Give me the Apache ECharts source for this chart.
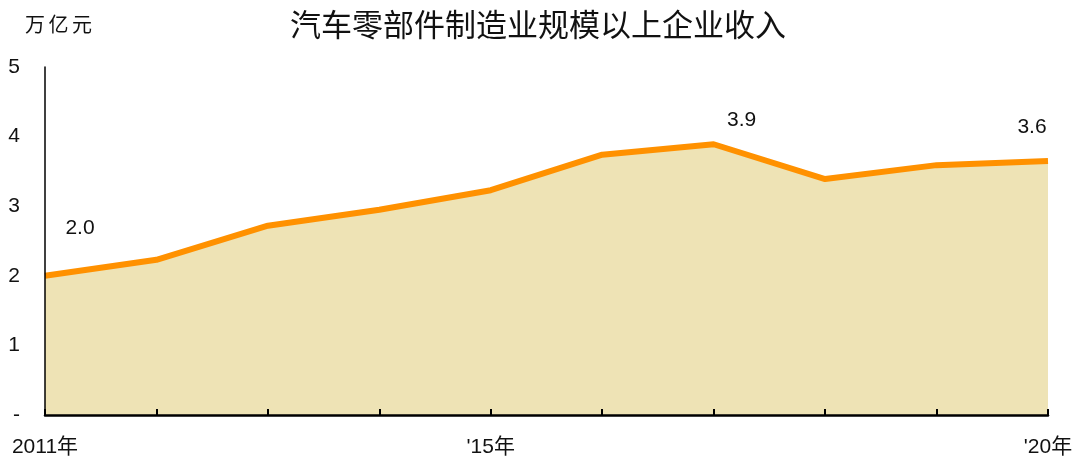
<!DOCTYPE html>
<html>
<head>
<meta charset="utf-8">
<script src="https://cdn.jsdelivr.net/npm/echarts@6/dist/echarts.min.js"></script>
<style>
	html, body { margin: 0; padding: 0; background: #fff; }
	#chart { width: 1076px; height: 459px; }
</style>
</head>
<body>
<div id="chart"></div>
<script>
// 年份与轴标签
var years = ['2011', '2012', '2013', '2014', '2015', '2016', '2017', '2018', '2019', '2020'];
var yearLabels = ['2011年', '', '', '', "'15年", '', '', '', '', "'20年"];
// 收入（万亿元）
var revenue = [2.0, 2.23, 2.72, 2.95, 3.23, 3.74, 3.89, 3.39, 3.59, 3.65];
var labelText = ['2.0', '', '', '', '', '', '3.9', '', '', '3.6'];
var unitChars = ['万', '亿', '元'];

var font = 'Liberation Sans, Arial, Noto Sans CJK SC, sans-serif';
var labelOffsets = { 0: [35, -32], 6: [28, -9], 9: [-16, -18] };

var myChart = echarts.init(document.getElementById('chart'));

var seriesData = [];
revenue.forEach(function(v, i) {
	var item = { value: v };
	if (labelText[i] != '') {
		item.label = {
			show: true,
			position: 'top',
			offset: labelOffsets[i],
			formatter: labelText[i],
			fontSize: 21,
			color: '#111',
			fontFamily: font
		};
	}
	seriesData.push(item);
});

var graphics = [];
unitChars.forEach(function(c, i) {
	graphics.push({
		type: 'text',
		left: 25 + i * 23.5,
		top: 16,
		style: { text: c, fontSize: 20, fill: '#111', fontFamily: font }
	});
});

var option = {
	animation: false,
	title: {
		text: '汽车零部件制造业规模以上企业收入',
		left: 'center',
		top: 7,
		textStyle: { fontSize: 31, fontWeight: 'normal', color: '#111', fontFamily: font }
	},
	graphic: graphics,
	grid: { left: 45, right: 28, top: 67, bottom: 44 },
	xAxis: {
		type: 'category',
		boundaryGap: false,
		data: years,
		z: 5,
		axisLine: { lineStyle: { color: '#000', width: 2.5 } },
		axisTick: { show: true, inside: true, length: 6, lineStyle: { color: '#000', width: 2 } },
		axisLabel: {
			interval: 0,
			margin: 22,
			fontSize: 21,
			color: '#111',
			fontFamily: font,
			formatter: function(v, i) { return yearLabels[i]; }
		}
	},
	yAxis: {
		type: 'value',
		min: 0,
		max: 5,
		interval: 1,
		z: 5,
		splitLine: { show: false },
		axisLine: { show: true, lineStyle: { color: '#000', width: 1.5 } },
		axisTick: { show: false },
		axisLabel: {
			margin: 25,
			fontSize: 21,
			color: '#111',
			fontFamily: font,
			formatter: function(v) { return v == 0 ? '-' : v; }
		}
	},
	series: [{
		type: 'line',
		data: seriesData,
		symbol: 'circle',
		symbolSize: 0.1,
		showSymbol: true,
		label: { show: false },
		itemStyle: { color: '#FF9100' },
		lineStyle: { color: '#FF9100', width: 6 },
		areaStyle: { color: '#EEE3B5', opacity: 1 },
		z: 1
	}]
};

myChart.setOption(option);
</script>
</body>
</html>
